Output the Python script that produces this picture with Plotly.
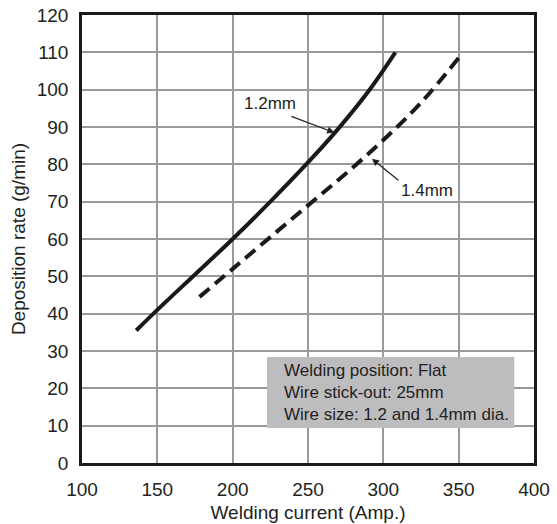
import plotly.graph_objects as go

# Data
x_12 = [136, 150, 175, 200, 225, 250, 270, 290, 308]
y_12 = [35.5, 41, 50.5, 60, 70, 80.5, 89.5, 99.5, 110]
x_14 = [178, 200, 225, 250, 275, 300, 325, 350]
y_14 = [44.5, 52, 60.5, 69, 77.5, 86.5, 96.5, 108.5]

x_ticks = [100, 150, 200, 250, 300, 350, 400]
y_ticks = [0, 10, 20, 30, 40, 50, 60, 70, 80, 90, 100, 110, 120]

note_lines = ["Welding position: Flat", "Wire stick-out: 25mm", "Wire size: 1.2 and 1.4mm dia."]

FONT = "Liberation Sans, Arial, sans-serif"
TXT = "#231f20"

fig = go.Figure()
fig.add_trace(go.Scatter(x=x_12, y=y_12, mode="lines", line=dict(color="#1a1a1a", width=4, shape="spline"),
                         showlegend=False, hoverinfo="skip"))
fig.add_trace(go.Scatter(x=x_14, y=y_14, mode="lines", line=dict(color="#1a1a1a", width=4, shape="spline", dash="13px,7px"),
                         showlegend=False, hoverinfo="skip"))

# gray note box
fig.add_shape(type="rect", xref="x", yref="y", x0=222.8, x1=386.9, y0=9.4, y1=28.4,
              fillcolor="#bdbdbf", line=dict(width=0), layer="above")
fig.add_annotation(x=232.6, y=18.8, xref="x", yref="y", text="<br>".join(note_lines),
                   showarrow=False, xanchor="left", yanchor="middle", align="left",
                   font=dict(family=FONT, size=17, color=TXT))

# labels with arrows
fig.add_annotation(x=224.8, y=96.4, text="1.2mm", showarrow=False, font=dict(family=FONT, size=17, color=TXT))
fig.add_annotation(x=267.5, y=88.5, ax=238, ay=93, axref="x", ayref="y", text="", showarrow=True,
                   arrowhead=2, arrowsize=1.2, arrowwidth=1.2, arrowcolor=TXT)
fig.add_annotation(x=329, y=72.9, text="1.4mm", showarrow=False, font=dict(family=FONT, size=17, color=TXT))
fig.add_annotation(x=292.4, y=81.5, ax=311, ay=75.4, axref="x", ayref="y", text="", showarrow=True,
                   arrowhead=2, arrowsize=1.2, arrowwidth=1.2, arrowcolor=TXT)

axis_common = dict(showgrid=True, gridcolor="#9a9a9a", gridwidth=1.5, showline=True, linecolor="#1a1a1a",
                   linewidth=2.5, mirror=True, ticks="outside", ticklen=7, tickcolor="rgba(0,0,0,0)",
                   zeroline=False, automargin=False,
                   tickfont=dict(family=FONT, size=19, color=TXT))
fig.update_xaxes(range=[100, 400], tickvals=x_ticks, title=dict(text="Welding current (Amp.)", standoff=8,
                 font=dict(family=FONT, size=19, color=TXT)), **axis_common)
fig.update_yaxes(range=[0, 120], tickvals=y_ticks, title=dict(text="Deposition rate (g/min)", standoff=7,
                 font=dict(family=FONT, size=19, color=TXT)), **axis_common)

fig.update_layout(width=557, height=524, margin=dict(l=82, r=23, t=15, b=61),
                  plot_bgcolor="white", paper_bgcolor="white")
fig.write_html("out.html", config={"displayModeBar": False},
               post_script="document.body.style.margin='0';")
